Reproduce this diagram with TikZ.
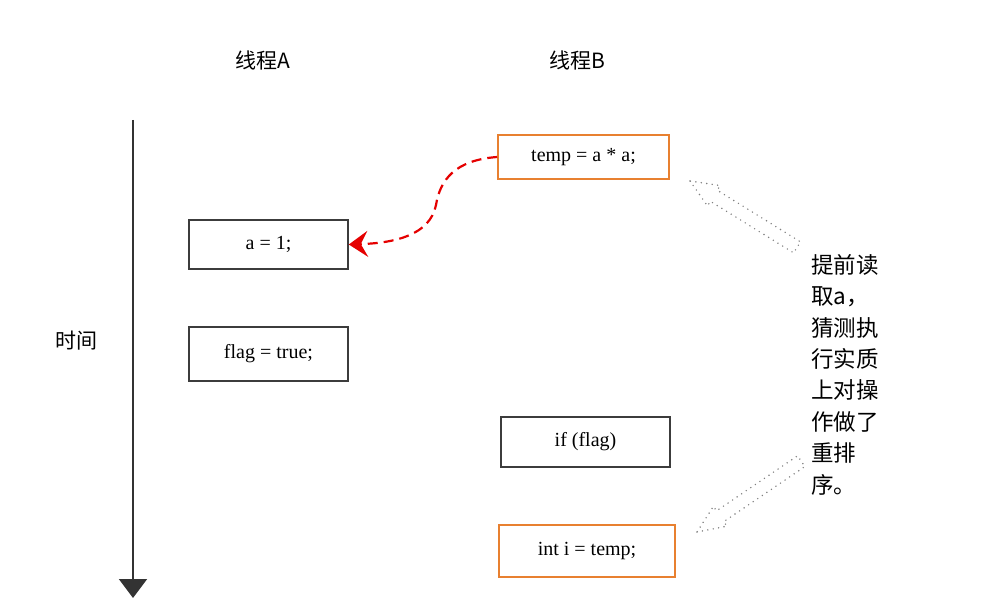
\documentclass[tikz,border=0pt]{standalone}
\usepackage{fontspec}
\setmainfont{Liberation Serif}
\newfontfamily\cjk{Noto Sans CJK SC}
\usetikzlibrary{arrows.meta}
\definecolor{boxorange}{RGB}{232,128,48}
\definecolor{boxgray}{RGB}{60,60,60}
\tikzset{
  codebox/.style={draw=boxgray,line width=1.6pt,minimum width=#1,minimum height=48pt,inner sep=0pt,font=\fontsize{20}{22}\selectfont},
  codebox/.default={160pt},
  orangebox/.style={codebox=#1,draw=boxorange},
  cjklabel/.style={font=\cjk\fontsize{21}{24}\selectfont,text=black},
  hollowarrow/.style={draw=black!50,line width=1.6pt,line cap=round,dash pattern=on 0pt off 5.5pt}
}
\newcommand{\hollowarrowshape}{(0,0) -- (28,12) -- (28,6.5) -- (126,6.5) -- (126,-6.5) -- (28,-6.5) -- (28,-12) -- cycle}
\begin{document}
\begin{tikzpicture}[x=1pt,y=-1pt]
\useasboundingbox (0,0) rectangle (988,604);
% titles
\node[cjklabel] (ta) at (263,60) {线程A};
\node[cjklabel] (tb) at (577,60) {线程B};
% time axis
\coordinate (t0) at (133,120);
\coordinate (t1) at (133,598);
\draw[line width=1.8pt,draw=black!80,-{Triangle[length=19pt,width=28pt]}] (t0) -- (t1);
\node[cjklabel] (time) at (76,341) {时间};
% boxes
\node[codebox=159pt,minimum height=49pt] (a1) at (268.5,244.5) {a = 1;};
\node[codebox=159pt,minimum height=54pt] (flag) at (268.5,354) {flag = true;};
\node[orangebox=171pt,minimum height=44pt] (temp) at (583.5,157) {temp = a * a;};
\node[codebox=169pt,minimum height=50pt] (if) at (585.5,442) {if (flag)};
\node[orangebox=176pt,minimum height=52pt] (inti) at (587,551) {int i = temp;};
% red dashed curve
\draw[red!90!black,line width=2.2pt,dash pattern=on 10pt off 6pt,-{Stealth[length=19pt,width=26pt,inset=7pt]}]
  (temp.west) .. controls (455,160) and (440,180) .. (436,205)
  .. controls (430,235) and (395,243) .. (a1.east);
% side text
\node[cjklabel,anchor=north west,align=left,inner sep=0pt,font=\cjk\fontsize{22.5}{31.4}\selectfont] (note) at (811,254)
  {提前读\\取a，\\猜测执\\行实质\\上对操\\作做了\\重排\\序。};
% dotted hollow arrows
\begin{scope}[shift={(690,181)},rotate=-31.8]
  \draw[hollowarrow] \hollowarrowshape;
\end{scope}
\begin{scope}[shift={(697,532)},rotate=34.2]
  \draw[hollowarrow] \hollowarrowshape;
\end{scope}
\end{tikzpicture}
\end{document}
